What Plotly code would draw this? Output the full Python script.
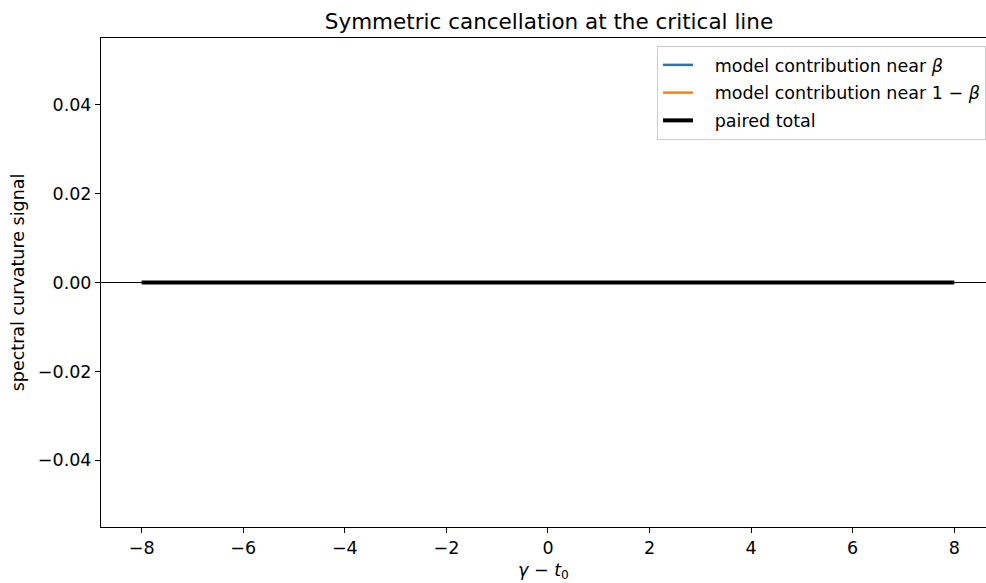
import plotly.graph_objects as go

# data
gamma_minus_t0 = [-8, -6, -4, -2, 0, 2, 4, 6, 8]
contrib_beta = [0, 0, 0, 0, 0, 0, 0, 0, 0]
contrib_one_minus_beta = [0, 0, 0, 0, 0, 0, 0, 0, 0]
paired_total = [0, 0, 0, 0, 0, 0, 0, 0, 0]
y_ticks = [-0.04, -0.02, 0.0, 0.02, 0.04]
x_ticks = [-8, -6, -4, -2, 0, 2, 4, 6, 8]
series_names = ["model contribution near <i>β</i>",
                "model contribution near 1 − <i>β</i>",
                "paired total"]

FONT = "DejaVu Sans"
TICK = 17.5
PAD = "&nbsp;&nbsp;&nbsp;"

fig = go.Figure()
fig.add_trace(go.Scatter(x=gamma_minus_t0, y=contrib_beta, mode="lines",
                         line=dict(color="#1f77b4", width=2.5),
                         name=PAD + series_names[0], legendgroup="a"))
fig.add_trace(go.Scatter(x=gamma_minus_t0, y=contrib_one_minus_beta, mode="lines",
                         line=dict(color="#ff7f0e", width=2.5),
                         name=PAD + series_names[1], legendgroup="b"))
fig.add_trace(go.Scatter(x=gamma_minus_t0, y=paired_total, mode="lines",
                         line=dict(color="black", width=4),
                         name=PAD + series_names[2], legendgroup="c"))

fig.add_shape(type="line", xref="paper", yref="y", x0=0, x1=1, y0=0, y1=0,
              line=dict(color="black", width=1), layer="below")

fig.update_layout(
    width=986, height=583,
    margin=dict(l=101, r=0, t=38, b=56),
    paper_bgcolor="white", plot_bgcolor="white",
    font=dict(family=FONT, size=TICK, color="black"),
    title=dict(text="Symmetric cancellation at the critical line",
               x=549 / 986, xanchor="center", y=1 - 21 / 583, yanchor="middle",
               font=dict(size=21.5, family=FONT, color="black")),
    showlegend=True,
    legend=dict(x=(657 - 101) / 885, y=(527 - 46) / 489, xanchor="left", yanchor="top",
                bgcolor="rgba(255,255,255,0.8)", bordercolor="#cccccc", borderwidth=1,
                font=dict(size=TICK, family=FONT), tracegroupgap=2),
)
fig.update_xaxes(range=[-8.8, 8.625], tickvals=x_ticks,
                 ticktext=[("−" if v < 0 else "") + str(abs(v)) for v in x_ticks],
                 showgrid=False, zeroline=False, showline=True, mirror=True,
                 linecolor="black", linewidth=1, ticks="outside", ticklen=5,
                 tickcolor="black",
                 title=dict(text="<i>γ</i> − <i>t</i><sub>0</sub>", standoff=6,
                            font=dict(size=TICK, family=FONT)))
fig.update_yaxes(range=[-0.055, 0.055], tickvals=y_ticks,
                 ticktext=[("−" if v < 0 else "") + f"{abs(v):.2f}" for v in y_ticks],
                 showgrid=False, zeroline=False, showline=True, mirror=False,
                 linecolor="black", linewidth=1, ticks="outside", ticklen=5,
                 tickcolor="black",
                 title=dict(text="spectral curvature signal", standoff=8,
                            font=dict(size=TICK, family=FONT)))

post = ("document.body.style.margin='0px';document.body.style.overflow='hidden';"
        "Plotly.relayout(document.getElementById('{plot_id}'), {width: 986, height: 583});")
fig.write_html("out.html", post_script=post, config={"displayModeBar": False})
